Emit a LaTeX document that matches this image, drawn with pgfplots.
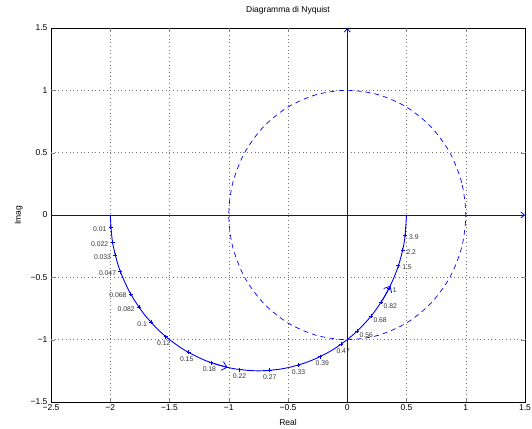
\documentclass[border=0pt]{standalone}
\usepackage{pgfplots}
\pgfplotsset{compat=1.18}
\usetikzlibrary{arrows.meta}
\usepackage{fontspec}
\setmainfont{Liberation Sans}

\begin{document}
\begin{tikzpicture}
\begin{axis}[
  name=ax,
  width=474pt, height=374pt, scale only axis,
  xmin=-2.5, xmax=1.5, ymin=-1.5, ymax=1.5,
  xtick={-2.5,-2,-1.5,-1,-0.5,0,0.5,1,1.5},
  xticklabels={−2.5,−2,−1.5,−1,−0.5,0,0.5,1,1.5},
  ytick={-1.5,-1,-0.5,0,0.5,1,1.5},
  yticklabels={−1.5,−1,−0.5,0,0.5,1,1.5},
  extra x ticks={-2,-1.5,-1,-0.5,0.5,1},
  extra x tick labels={},
  extra y ticks={-1,-0.5,0.5,1},
  extra y tick labels={},
  extra tick style={grid=major},
  tick align=inside,
  major tick length=4pt,
  major grid style={dash pattern=on 0.7pt off 3pt, black!55, line width=0.5pt},
  tick label style={font=\fontsize{8.5}{10}\selectfont},
  xticklabel style={yshift=1pt},
  title={Diagramma di Nyquist},
  title style={font=\fontsize{8.5}{10}\selectfont, at={(axis description cs:0.5,1.032)}, anchor=center},
  xlabel={Real}, ylabel={Imag},
  label style={font=\fontsize{8.5}{10}\selectfont},
  xlabel style={at={(axis description cs:0.5,-0.055)}, anchor=center},
  ylabel style={at={(axis description cs:-0.068,0.5)}, anchor=center},
  clip=false,
  axis line style={black, line width=0.7pt},
]
% real and imaginary axes
\addplot[blue, line width=0.8pt, -{Straight Barb[length=3.5pt,width=6pt]}] coordinates {(-2.5,0) (1.5,0)};
\addplot[blue, line width=0.8pt, -{Straight Barb[length=3.5pt,width=6pt]}] coordinates {(0,-1.5) (0,1.5)};
% unit circle
\addplot[blue, dash pattern=on 5pt off 4pt, line width=0.7pt, smooth cycle] coordinates {
 (1,0) (0.9659,0.2588) (0.8660,0.5) (0.7071,0.7071) (0.5,0.8660) (0.2588,0.9659)
 (0,1) (-0.2588,0.9659) (-0.5,0.8660) (-0.7071,0.7071) (-0.8660,0.5) (-0.9659,0.2588)
 (-1,0) (-0.9659,-0.2588) (-0.8660,-0.5) (-0.7071,-0.7071) (-0.5,-0.8660) (-0.2588,-0.9659)
 (0,-1) (0.2588,-0.9659) (0.5,-0.8660) (0.7071,-0.7071) (0.8660,-0.5) (0.9659,-0.2588)};
% Nyquist curve
\addplot[blue, line width=0.9pt, smooth] coordinates {
 (-2,0) (-1.9810,-0.2170) (-1.9246,-0.4275) (-1.8325,-0.625) (-1.7075,-0.8035)
 (-1.5535,-0.9575) (-1.375,-1.0825) (-1.1775,-1.1746) (-0.9670,-1.2310) (-0.75,-1.25)
 (-0.5330,-1.2310) (-0.3225,-1.1746) (-0.125,-1.0825) (0.0535,-0.9575) (0.2075,-0.8035)
 (0.3325,-0.625) (0.4246,-0.4275) (0.4810,-0.2170) (0.5,0)};
% direction arrows
\addplot[blue, line width=0.8pt, -{Straight Barb[length=5pt,width=9pt]}] coordinates {(-1.1363,-1.1888) (-1.01,-1.2227)};
\addplot[blue, line width=0.8pt, -{Straight Barb[length=5pt,width=9pt]}] coordinates {(0.2984,-0.6808) (0.3638,-0.5675)};
% frequency markers
\pgfplotsset{freq/.style={blue, only marks, mark=+, mark size=2pt, mark options={line width=0.6pt},
  nodes near coords, point meta=explicit symbolic,
  every node near coord/.append style={font=\fontsize{6.8}{7}\selectfont, text=black!80, inner sep=1pt}}}
\addplot[freq, every node near coord/.append style={anchor=east, xshift=-3pt, yshift=-1.5pt}] coordinates {
 (-1.996,-0.0998) [0.01] (-1.9808,-0.2183) [0.022] (-1.9572,-0.3243) [0.033] (-1.9147,-0.4540) [0.047]
 (-1.8278,-0.6332) [0.068] (-1.7572,-0.7404) [0.082] (-1.6552,-0.8621) [0.1]};
\addplot[freq, every node near coord/.append style={anchor=north, xshift=-2pt, yshift=-3pt}] coordinates {
 (-1.5319,-0.9753) [0.12] (-1.3382,-1.1029) [0.15] (-1.1465,-1.1855) [0.18]};
\addplot[freq, every node near coord/.append style={anchor=north, yshift=-3pt}] coordinates {
 (-0.9089,-1.2399) [0.22] (-0.6540,-1.2463) [0.27] (-0.4116,-1.2033) [0.33]};
\addplot[freq, every node near coord/.append style={anchor=north, xshift=2pt, yshift=-3pt}] coordinates {
 (-0.2281,-1.1358) [0.39] (-0.0513,-1.0365) [0.47]};
\addplot[freq, every node near coord/.append style={anchor=north west, xshift=1pt, yshift=-0.5pt}] coordinates {
 (0.0846,-0.9306) [0.56] (0.2023,-0.8097) [0.68] (0.2874,-0.6974) [0.82]};
\addplot[freq, every node near coord/.append style={anchor=west, xshift=2.5pt, yshift=-2pt}] coordinates {
 (0.3529,-0.5882) [1] (0.4324,-0.4054) [1.5] (0.4681,-0.2805) [2.2] (0.4898,-0.1596) [3.9]};
\end{axis}
\pgfresetboundingbox
\path[use as bounding box] ([xshift=-51pt,yshift=-26pt]ax.south west) rectangle ([xshift=7pt,yshift=28pt]ax.north east);
\end{tikzpicture}
\end{document}
